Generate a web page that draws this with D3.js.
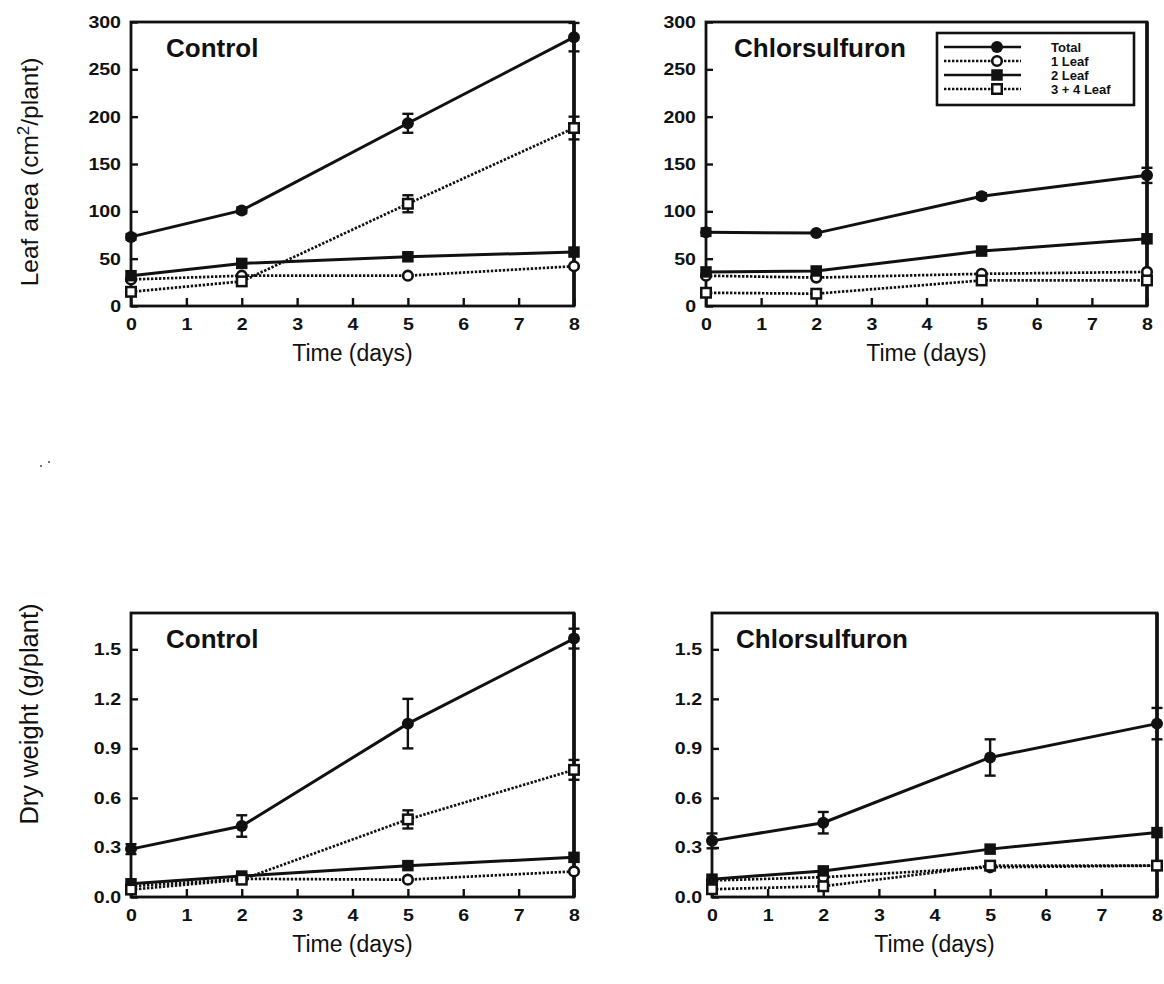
<!DOCTYPE html>
<html><head><meta charset="utf-8">
<script src="https://cdn.jsdelivr.net/npm/d3@7"></script>
<style>body{margin:0;background:#fff}svg{display:block}</style></head>
<body><svg id="chart" width="1164" height="984"></svg>
<script>
// Sampling days and axis ticks
const days = [0, 2, 5, 8];
const xTicks = [0, 1, 2, 3, 4, 5, 6, 7, 8];
const areaTicks = [0, 50, 100, 150, 200, 250, 300];
const weightTicks = [0, 0.3, 0.6, 0.9, 1.2, 1.5];
const seriesNames = ["Total", "1 Leaf", "2 Leaf", "3 + 4 Leaf"];

// Leaf area (cm2/plant), control
const areaCtrlTotal = [73, 101, 193, 284];
const areaCtrlTotalSe = [3, 3, 10, 15];
const areaCtrlLeaf1 = [28, 32, 32, 42];
const areaCtrlLeaf2 = [32, 45, 52, 57];
const areaCtrlLeaf34 = [15, 26, 108, 188];
const areaCtrlLeaf34Se = [0, 0, 9, 12];

// Leaf area (cm2/plant), chlorsulfuron
const areaChlTotal = [78, 77, 116, 138];
const areaChlTotalSe = [4, 2, 3, 8];
const areaChlLeaf1 = [32, 30, 34, 36];
const areaChlLeaf2 = [36, 37, 58, 71];
const areaChlLeaf34 = [14, 13, 27, 27];

// Dry weight (g/plant), control
const dwCtrlTotal = [0.29, 0.43, 1.05, 1.565];
const dwCtrlTotalSe = [0.03, 0.065, 0.15, 0.06];
const dwCtrlLeaf1 = [0.065, 0.11, 0.105, 0.155];
const dwCtrlLeaf2 = [0.08, 0.127, 0.19, 0.24];
const dwCtrlLeaf34 = [0.045, 0.105, 0.47, 0.77];
const dwCtrlLeaf34Se = [0, 0, 0.055, 0.06];

// Dry weight (g/plant), chlorsulfuron
const dwChlTotal = [0.34, 0.45, 0.845, 1.05];
const dwChlTotalSe = [0.045, 0.065, 0.11, 0.095];
const dwChlLeaf1 = [0.1, 0.12, 0.18, 0.19];
const dwChlLeaf2 = [0.108, 0.158, 0.29, 0.39];
const dwChlLeaf34 = [0.047, 0.065, 0.19, 0.19];

const svg = d3.select("#chart");
const FONT = "'Liberation Sans', Arial, Helvetica, sans-serif";
const INK = "#111";

// Widen text horizontally by a factor (glyphs and spacing)
function widen(sel, factor) {
  sel.each(function () {
    const w = this.getComputedTextLength();
    d3.select(this).attr("textLength", w * factor).attr("lengthAdjust", "spacingAndGlyphs");
  });
}

// Line and marker style per series: Total, 1 Leaf, 2 Leaf, 3 + 4 Leaf
const styles = [
  {dash: null, marker: "circle", filled: true},
  {dash: "2.4,1.6", marker: "circle", filled: false},
  {dash: null, marker: "square", filled: true},
  {dash: "2.4,1.6", marker: "square", filled: false}
];

function drawMarker(g, st, cx, cy) {
  if (st.marker === "circle") {
    g.append("circle").attr("cx", cx).attr("cy", cy)
      .attr("r", st.filled ? 6 : 4.8)
      .attr("fill", st.filled ? INK : "#fff")
      .attr("stroke", INK).attr("stroke-width", st.filled ? 0 : 2.6);
  } else {
    const s = st.filled ? 11.5 : 9.5;
    g.append("rect").attr("x", cx - s / 2).attr("y", cy - s / 2)
      .attr("width", s).attr("height", s)
      .attr("fill", st.filled ? INK : "#fff")
      .attr("stroke", INK).attr("stroke-width", st.filled ? 0 : 2.5);
  }
}

function drawPanel(cfg) {
  const x = d3.scaleLinear().domain([0, 8]).range([cfg.left, cfg.right]);
  const y = d3.scaleLinear().domain([0, cfg.yMax]).range([cfg.bottom, cfg.top]);
  const g = svg.append("g");

  // x axis with inward ticks
  const xAxis = d3.axisBottom(x).tickValues(xTicks).tickSize(-8).tickPadding(16)
    .tickFormat(d3.format("d"));
  const gx = g.append("g").attr("transform", `translate(0,${cfg.bottom})`).call(xAxis);
  gx.select(".domain").remove();
  gx.selectAll(".tick line").attr("stroke", INK).attr("stroke-width", 2.4);
  const xt = gx.selectAll(".tick text").attr("font-family", FONT).attr("font-weight", "bold")
    .attr("font-size", 17).attr("fill", INK).attr("dy", "0.45em");
  widen(xt, 1.15);

  // y axis with inward ticks
  const yAxis = d3.axisLeft(y).tickValues(cfg.yTicks).tickSize(-7).tickPadding(10)
    .tickFormat(cfg.yFmt);
  const gy = g.append("g").attr("transform", `translate(${cfg.left},0)`).call(yAxis);
  gy.select(".domain").remove();
  gy.selectAll(".tick line").attr("stroke", INK).attr("stroke-width", 2.4);
  const yt = gy.selectAll(".tick text").attr("font-family", FONT).attr("font-weight", "bold")
    .attr("font-size", 17).attr("fill", INK);
  widen(yt, 1.15);

  // frame
  g.append("rect").attr("x", cfg.left).attr("y", cfg.top)
    .attr("width", cfg.right - cfg.left).attr("height", cfg.bottom - cfg.top)
    .attr("fill", "none").attr("stroke", INK).attr("stroke-width", 2.8);
  g.append("line").attr("x1", cfg.right).attr("x2", cfg.right)
    .attr("y1", cfg.top).attr("y2", cfg.bottom)
    .attr("stroke", INK).attr("stroke-width", 3.6);

  // x axis title
  g.append("text").attr("x", (cfg.left + cfg.right) / 2).attr("y", cfg.bottom + 55)
    .attr("text-anchor", "middle").attr("font-family", FONT).attr("font-size", 23)
    .attr("fill", INK).text("Time (days)");

  // panel title
  g.append("text").attr("x", cfg.left + cfg.titleDx).attr("y", cfg.top + 35)
    .attr("font-family", FONT).attr("font-weight", "bold").attr("font-size", 26)
    .attr("fill", INK).text(cfg.title);

  const line = d3.line().x((d, i) => x(days[i])).y(d => y(d));

  cfg.series.forEach((s, k) => {
    const st = styles[k];
    g.append("path").datum(s.values).attr("d", line)
      .attr("fill", "none").attr("stroke", INK)
      .attr("stroke-width", st.dash ? 2.7 : 3)
      .attr("stroke-dasharray", st.dash);
  });

  cfg.series.forEach((s) => {
    if (!s.se) return;
    s.values.forEach((v, i) => {
      const e = s.se[i];
      if (!e) return;
      const cx = x(days[i]);
      g.append("line").attr("x1", cx).attr("x2", cx)
        .attr("y1", y(v - e)).attr("y2", y(v + e))
        .attr("stroke", INK).attr("stroke-width", 2.4);
      [v - e, v + e].forEach(t => {
        g.append("line").attr("x1", cx - 5.5).attr("x2", cx + 5.5)
          .attr("y1", y(t)).attr("y2", y(t))
          .attr("stroke", INK).attr("stroke-width", 2.4);
      });
    });
  });

  cfg.series.forEach((s, k) => {
    s.values.forEach((v, i) => drawMarker(g, styles[k], x(days[i]), y(v)));
  });

  if (cfg.legend) {
    const lg = g.append("g");
    const bx = cfg.right - 210, by = cfg.top + 11, bw = 197, bh = 72;
    lg.append("rect").attr("x", bx).attr("y", by).attr("width", bw).attr("height", bh)
      .attr("fill", "#fff").attr("stroke", INK).attr("stroke-width", 2.6);
    seriesNames.forEach((name, k) => {
      const st = styles[k];
      const ly = by + 14 + k * 14;
      lg.append("line").attr("x1", bx + 7).attr("x2", bx + 84)
        .attr("y1", ly).attr("y2", ly).attr("stroke", INK)
        .attr("stroke-width", 2.4).attr("stroke-dasharray", st.dash);
      drawMarker(lg, st, bx + 60, ly);
      lg.append("text").attr("x", bx + 114).attr("y", ly + 4.5)
        .attr("font-family", "'Liberation Sans Narrow', 'Liberation Sans', Arial, sans-serif")
        .attr("font-weight", "bold").attr("font-size", 13)
        .attr("fill", INK).text(name);
    });
  }
  return g;
}

const fmtArea = d3.format("d");
const fmtWeight = d3.format(".1f");

drawPanel({left: 131, right: 574, top: 22, bottom: 306, yMax: 300, yTicks: areaTicks,
  yFmt: fmtArea, title: "Control", titleDx: 35,
  series: [{values: areaCtrlTotal, se: areaCtrlTotalSe}, {values: areaCtrlLeaf1},
           {values: areaCtrlLeaf2}, {values: areaCtrlLeaf34, se: areaCtrlLeaf34Se}]});

drawPanel({left: 706, right: 1147, top: 22, bottom: 306, yMax: 300, yTicks: areaTicks,
  yFmt: fmtArea, title: "Chlorsulfuron", titleDx: 28, legend: true,
  series: [{values: areaChlTotal, se: areaChlTotalSe}, {values: areaChlLeaf1},
           {values: areaChlLeaf2}, {values: areaChlLeaf34}]});

drawPanel({left: 131, right: 574, top: 613, bottom: 897, yMax: 1.72, yTicks: weightTicks,
  yFmt: fmtWeight, title: "Control", titleDx: 35,
  series: [{values: dwCtrlTotal, se: dwCtrlTotalSe}, {values: dwCtrlLeaf1},
           {values: dwCtrlLeaf2}, {values: dwCtrlLeaf34, se: dwCtrlLeaf34Se}]});

drawPanel({left: 712, right: 1157, top: 613, bottom: 897, yMax: 1.72, yTicks: weightTicks,
  yFmt: fmtWeight, title: "Chlorsulfuron", titleDx: 24,
  series: [{values: dwChlTotal, se: dwChlTotalSe}, {values: dwChlLeaf1},
           {values: dwChlLeaf2}, {values: dwChlLeaf34}]});

// y axis titles
const t1 = svg.append("text").attr("transform", "translate(38,172) rotate(-90)")
  .attr("text-anchor", "middle").attr("font-family", FONT).attr("font-size", 24.5)
  .attr("fill", INK);
t1.append("tspan").text("Leaf area (cm");
t1.append("tspan").attr("dy", -9).attr("font-size", 17).text("2");
t1.append("tspan").attr("dy", 9).text("/plant)");

svg.append("text").attr("transform", "translate(38,714) rotate(-90)")
  .attr("text-anchor", "middle").attr("font-family", FONT).attr("font-size", 25.5)
  .attr("fill", INK).text("Dry weight (g/plant)");

// small specks left of the lower panels
svg.append("circle").attr("cx", 41).attr("cy", 466).attr("r", 1.1).attr("fill", "#555");
svg.append("circle").attr("cx", 49).attr("cy", 462).attr("r", 1.1).attr("fill", "#555");
</script>
</body></html>
